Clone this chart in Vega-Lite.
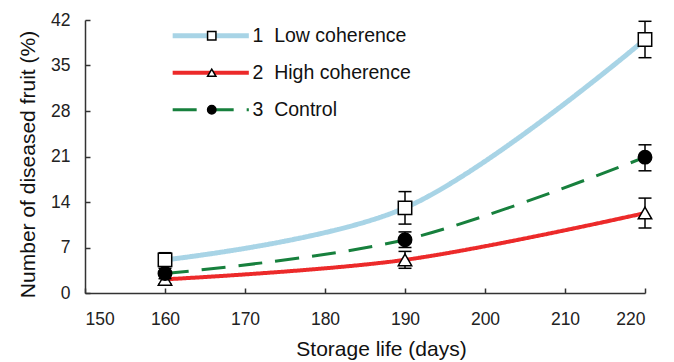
{
  "$schema": "https://vega.github.io/schema/vega-lite/v6.json",
  "width": 560,
  "height": 273,
  "autosize": {"type": "none"},
  "padding": {"left": 85, "top": 20, "right": 29, "bottom": 69},
  "background": "white",
  "config": {
    "view": {"stroke": null},
    "font": "Liberation Sans",
    "axis": {
      "grid": false,
      "domainColor": "#333333",
      "domainWidth": 1.5,
      "tickColor": "#333333",
      "tickWidth": 1.5,
      "tickSize": -5,
      "labelFont": "Liberation Sans",
      "labelFontSize": 17.5,
      "labelColor": "#222222",
      "titleFont": "Liberation Sans",
      "titleFontSize": 21,
      "titleFontWeight": "normal",
      "titleColor": "#111111"
    }
  },
  "data": {
    "values": [
      {"day": 160, "series": "1\u00a0\u00a0Low coherence", "value": 5.1, "lo": 4.1, "hi": 6.2},
      {"day": 190, "series": "1\u00a0\u00a0Low coherence", "value": 13.1, "lo": 10.6, "hi": 15.6},
      {"day": 220, "series": "1\u00a0\u00a0Low coherence", "value": 39.0, "lo": 36.2, "hi": 41.8},
      {"day": 160, "series": "2\u00a0\u00a0High coherence", "value": 2.1, "lo": 1.4, "hi": 2.8},
      {"day": 190, "series": "2\u00a0\u00a0High coherence", "value": 5.1, "lo": 3.8, "hi": 6.4},
      {"day": 220, "series": "2\u00a0\u00a0High coherence", "value": 12.3, "lo": 10.0, "hi": 14.6},
      {"day": 160, "series": "3\u00a0\u00a0Control", "value": 3.0, "lo": 2.2, "hi": 3.8},
      {"day": 190, "series": "3\u00a0\u00a0Control", "value": 8.2, "lo": 7.0, "hi": 9.4},
      {"day": 220, "series": "3\u00a0\u00a0Control", "value": 20.9, "lo": 18.8, "hi": 22.8}
    ]
  },
  "encoding": {
    "x": {
      "field": "day",
      "type": "quantitative",
      "scale": {"domain": [150, 220], "nice": false, "zero": false},
      "axis": {
        "values": [150, 160, 170, 180, 190, 200, 210, 220],
        "labelPadding": 22,
        "title": "Storage life (days)",
        "titleX": 296,
        "titleY": 45
      }
    }
  },
  "layer": [
    {
      "mark": {"type": "line", "interpolate": "catmull-rom"},
      "encoding": {
        "y": {
          "field": "value",
          "type": "quantitative",
          "scale": {"domain": [0, 42], "nice": false},
          "axis": {
            "values": [0, 7, 14, 21, 28, 35, 42],
            "labelPadding": 20,
            "title": "Number of diseased fruit (%)",
            "titleX": -47,
            "titleY": 144
          }
        },
        "color": {
          "field": "series",
          "type": "nominal",
          "scale": {"range": ["#a8d4e6", "#ec2a2a", "#17803d"]},
          "legend": {
            "orient": "none",
            "legendX": 116,
            "legendY": 6,
            "title": null,
            "symbolType": "M-10,0H10",
            "symbolSize": 58,
            "symbolStrokeWidth": 4,
            "labelFontSize": 19.5,
            "labelColor": "#111111",
            "labelOffset": 32,
            "rowPadding": 16
          }
        },
        "strokeDash": {
          "field": "series",
          "type": "nominal",
          "scale": {"range": [[1, 0], [1, 0], [24, 13]]}
        },
        "strokeWidth": {
          "field": "series",
          "type": "nominal",
          "scale": {"range": [5, 3, 4]},
          "legend": null
        }
      }
    },
    {
      "mark": {"type": "rule", "color": "black", "strokeWidth": 1.5},
      "encoding": {
        "y": {"field": "lo", "type": "quantitative"},
        "y2": {"field": "hi"}
      }
    },
    {
      "mark": {"type": "tick", "orient": "horizontal", "size": 13, "thickness": 1.5, "color": "black", "opacity": 1},
      "encoding": {"y": {"field": "lo", "type": "quantitative"}}
    },
    {
      "mark": {"type": "tick", "orient": "horizontal", "size": 13, "thickness": 1.5, "color": "black", "opacity": 1},
      "encoding": {"y": {"field": "hi", "type": "quantitative"}}
    },
    {
      "mark": {"type": "point", "strokeWidth": 1.5, "opacity": 1, "size": 180},
      "encoding": {
        "y": {"field": "value", "type": "quantitative"},
        "shape": {
          "field": "series",
          "type": "nominal",
          "scale": {
            "domain": ["1\u00a0\u00a0Low coherence", "2\u00a0\u00a0High coherence", "3\u00a0\u00a0Control"],
            "range": ["square", "triangle-up", "circle"]
          },
          "legend": {
            "orient": "none",
            "legendX": 117,
            "legendY": 6,
            "title": null,
            "symbolSize": 70,
            "symbolStrokeWidth": 1.5,
            "labelFontSize": 19.5,
            "labelExpr": "''",
            "rowPadding": 16
          }
        },
        "fill": {
          "field": "series",
          "type": "nominal",
          "scale": {
            "domain": ["1\u00a0\u00a0Low coherence", "2\u00a0\u00a0High coherence", "3\u00a0\u00a0Control"],
            "range": ["white", "white", "black"]
          },
          "legend": {
            "orient": "none",
            "legendX": 117,
            "legendY": 6,
            "title": null,
            "symbolSize": 70,
            "symbolStrokeWidth": 1.5,
            "labelFontSize": 19.5,
            "labelExpr": "''",
            "rowPadding": 16
          }
        },
        "stroke": {
          "field": "series",
          "type": "nominal",
          "scale": {
            "domain": ["1\u00a0\u00a0Low coherence", "2\u00a0\u00a0High coherence", "3\u00a0\u00a0Control"],
            "range": ["black", "black", "black"]
          },
          "legend": {
            "orient": "none",
            "legendX": 117,
            "legendY": 6,
            "title": null,
            "symbolSize": 70,
            "symbolStrokeWidth": 1.5,
            "labelFontSize": 19.5,
            "labelExpr": "''",
            "rowPadding": 16
          }
        }
      }
    }
  ]
}
